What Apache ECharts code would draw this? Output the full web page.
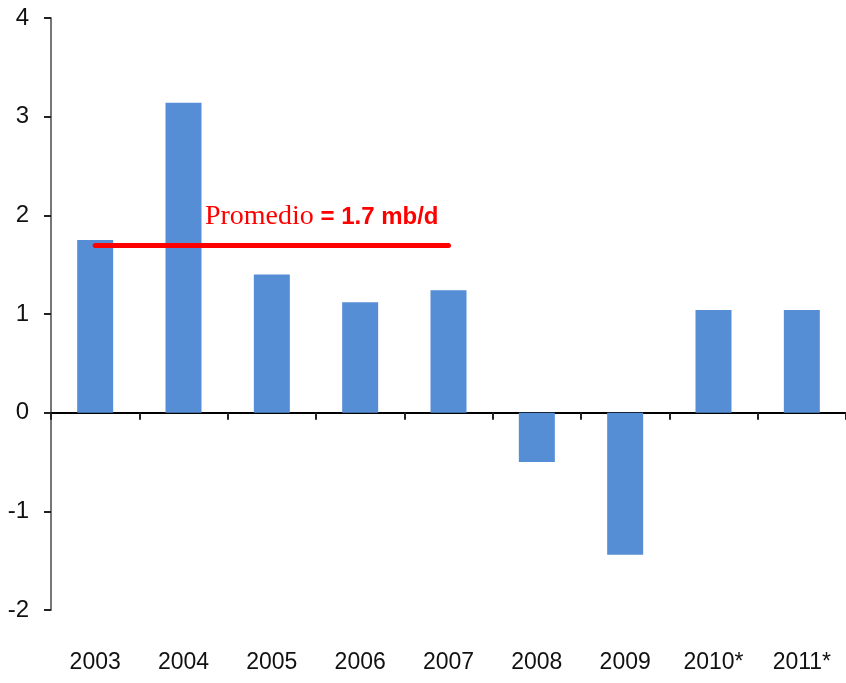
<!DOCTYPE html>
<html><head><meta charset="utf-8">
<script src="https://cdn.jsdelivr.net/npm/echarts@6/dist/echarts.min.js"></script>
<style>html,body{margin:0;padding:0;background:#fff}#c{width:846px;height:683px}</style>
</head><body><div id="c"></div>
<script>
var categories = ['2003','2004','2005','2006','2007','2008','2009','2010*','2011*'];
var values = [1.75, 3.14, 1.40, 1.12, 1.24, -0.50, -1.44, 1.04, 1.04];
var averageValue = 1.7;
var averageStart = '2003';
var averageEnd = '2007';
var yTicks = [-2, -1, 0, 1, 2, 3, 4];

var font = '"Liberation Sans", Arial, sans-serif';
var chart = echarts.init(document.getElementById('c'));
chart.setOption({
  animation: false,
  grid: {left: 51, top: 18, width: 803, height: 592},
  xAxis: [{
    type: 'category', data: categories, position: 'bottom',
    axisLine: {show: false, onZero: false}, axisTick: {show: false},
    axisLabel: {fontFamily: font, fontSize: 23, color: '#111', margin: 41}
  }, {
    type: 'category', data: categories, position: 'bottom',
    axisLine: {show: true, onZero: true, lineStyle: {color: '#000', width: 2}},
    axisTick: {show: true, length: 7, lineStyle: {color: '#222', width: 2}},
    axisLabel: {show: false}
  }],
  yAxis: {
    type: 'value', min: yTicks[0], max: yTicks[yTicks.length-1], interval: 1,
    splitLine: {show: false},
    axisLine: {show: true, lineStyle: {color: '#777', width: 2}},
    axisTick: {show: true, length: 7, lineStyle: {color: '#222', width: 2}},
    axisLabel: {fontFamily: font, fontSize: 24, color: '#111', margin: 22}
  },
  series: [{
    type: 'bar', data: values, barWidth: 36, xAxisIndex: 0,
    itemStyle: {color: '#558ed5'},
    markLine: {
      silent: true, symbol: 'none',
      lineStyle: {color: '#ff0000', width: 5, type: 'solid', cap: 'round'},
      label: {
        show: true, position: 'insideEndTop', distance: [10, 14],
        formatter: '{a|Promedio}{b| = 1.7 mb/d}',
        rich: {
          a: {fontFamily: '"Liberation Serif", "Times New Roman", serif', fontSize: 28, color: '#ff0000'},
          b: {fontFamily: font, fontSize: 24, fontWeight: 'bold', color: '#ff0000'}
        }
      },
      data: [[{coord: [averageStart, averageValue]}, {coord: [averageEnd, averageValue]}]]
    }
  }]
});
</script></body></html>
